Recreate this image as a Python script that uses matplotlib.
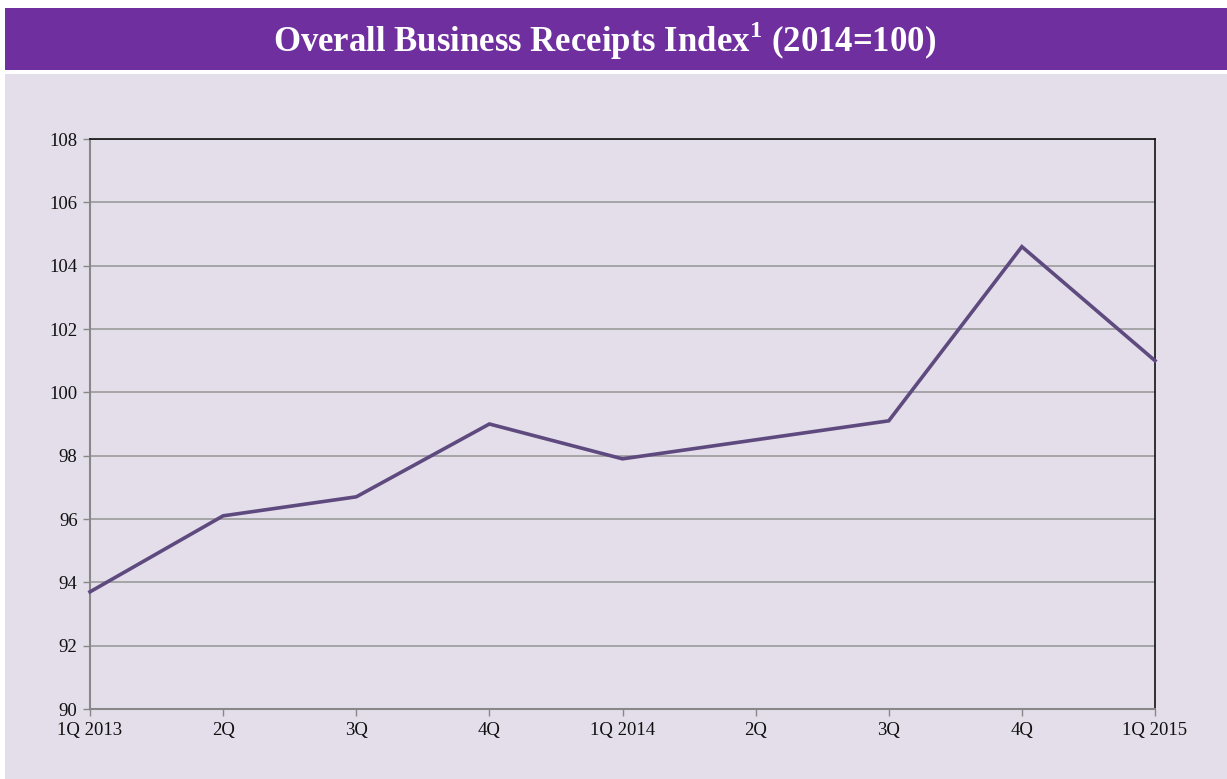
import matplotlib
matplotlib.use("Agg")
import matplotlib.pyplot as plt
from matplotlib.patches import Rectangle

categories = ["1Q 2013", "2Q", "3Q", "4Q", "1Q 2014", "2Q", "3Q", "4Q", "1Q 2015"]
values = [93.7, 96.1, 96.7, 99.0, 97.9, 98.5, 99.1, 104.6, 101.0]
yticks = [90, 92, 94, 96, 98, 100, 102, 104, 106, 108]

plt.rcParams["mathtext.fontset"] = "custom"
plt.rcParams["mathtext.rm"] = "Liberation Serif"
plt.rcParams["mathtext.bf"] = "Liberation Serif:bold"

W, H = 1227, 779
fig = plt.figure(figsize=(W / 100, H / 100), dpi=100)
fig.patch.set_facecolor("white")

bg = "#E3DEEA"
# title band
fig.add_artist(Rectangle((5 / W, 1 - 70 / H), 1 - 5 / W, 62 / H, transform=fig.transFigure,
                         facecolor="#6F2F9E", edgecolor="none", zorder=0))
# panel
fig.add_artist(Rectangle((5 / W, 0), 1 - 5 / W, 1 - 74 / H, transform=fig.transFigure,
                         facecolor=bg, edgecolor="none", zorder=0))

fig.text(605 / W, 1 - 41 / H, r"Overall Business Receipts Index$^{\mathbf{1}}$ (2014=100)",
         ha="center", va="center", color="white", fontsize=25, fontweight="bold",
         family="Liberation Serif")

ax = fig.add_axes([90 / W, 1 - 709 / H, (1155 - 90) / W, (709 - 139) / H])
ax.set_facecolor(bg)
x = list(range(len(categories)))
ax.plot(x, values, color="#5E4A7E", linewidth=2.6, solid_joinstyle="miter", zorder=3, clip_on=False)
ax.set_xlim(0, len(categories) - 1)
ax.set_ylim(90, 108)
ax.set_yticks(yticks)
ax.set_xticks(x)
ax.set_xticklabels(categories)
for lab in ax.get_xticklabels() + ax.get_yticklabels():
    lab.set_family("Liberation Serif")
    lab.set_fontsize(13.5)
    lab.set_color("#111111")
ax.grid(axis="y", color="#9A9A9A", linewidth=1.2)
ax.set_axisbelow(True)
for s in ["left", "bottom"]:
    ax.spines[s].set_color("#888888")
    ax.spines[s].set_linewidth(1.5)
for s in ["top", "right"]:
    ax.spines[s].set_color("#111111")
    ax.spines[s].set_linewidth(1.2)
ax.tick_params(axis="both", color="#888888", length=5, width=1)
ax.tick_params(axis="x", pad=4)
ax.tick_params(axis="y", pad=4)

fig.savefig("out.png", dpi=100, facecolor=fig.get_facecolor())
